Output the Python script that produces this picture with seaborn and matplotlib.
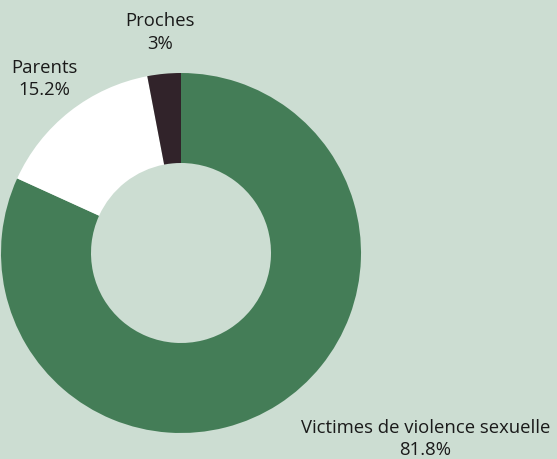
import numpy as np
import matplotlib
matplotlib.use("Agg")
import matplotlib.pyplot as plt
import seaborn as sns

# data
categories = ["Victimes de violence sexuelle", "Parents", "Proches"]
values = [81.8, 15.2, 3.0]
value_labels = ["81.8%", "15.2%", "3%"]
colors = ["#447d57", "#ffffff", "#31232a"]
bg = "#ccddd2"

sns.set_style("white")
plt.rcParams["font.family"] = ["Open Sans", "DejaVu Sans"]

W, H = 557, 459
fig = plt.figure(figsize=(W / 100, H / 100), dpi=100, facecolor=bg)
ax = fig.add_axes([0, 0, 1, 1])
ax.set_facecolor(bg)

cx, cy, R = 181, H - 253, 180
wedges, _ = ax.pie(values, colors=colors, startangle=90, counterclock=False,
                   center=(cx, cy), radius=R, frame=True,
                   wedgeprops=dict(width=R / 2, linewidth=0))
ax.set_xlim(0, W)
ax.set_ylim(0, H)
ax.set_aspect("equal")
ax.axis("off")

# labels outside the ring
for w, cat, lab in zip(wedges, categories, value_labels):
    ang = np.deg2rad((w.theta1 + w.theta2) / 2)
    r = R * 1.23
    x = cx + r * np.cos(ang)
    y = cy + r * np.sin(ang)
    ha = "left" if np.cos(ang) > 0.3 else "center"
    ax.text(x, y, f"{cat}\n{lab}", ha=ha, va="center", multialignment="center",
            fontsize=13.3, color="#1a1a1a", linespacing=1.3)

fig.savefig("out.png", dpi=100, facecolor=bg)
